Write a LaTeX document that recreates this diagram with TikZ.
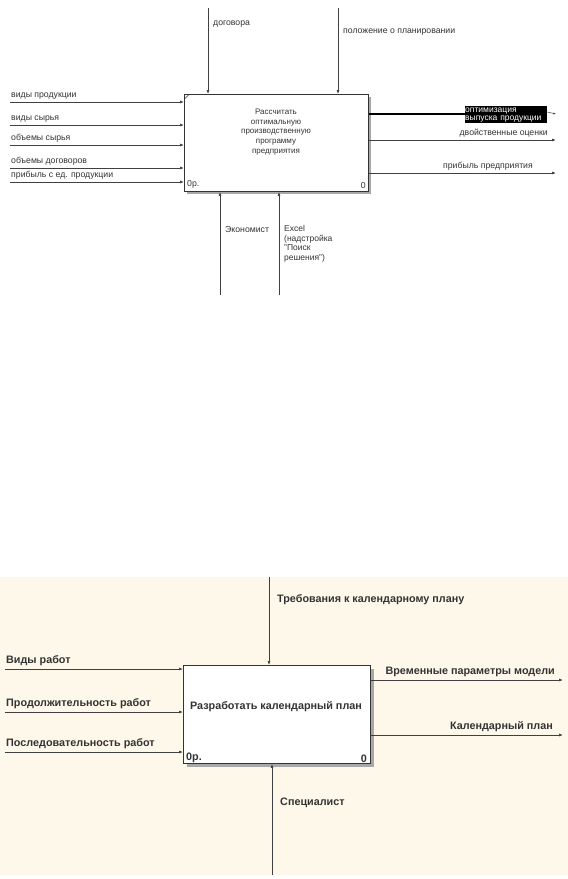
\documentclass[tikz,border=0pt]{standalone}
\usepackage{fontspec}
\setmainfont{Liberation Sans}
\usetikzlibrary{arrows.meta}
\definecolor{cream}{HTML}{FDF8EA}
\definecolor{shadowgray}{HTML}{A8A8A8}
\begin{document}
\begin{tikzpicture}[x=1pt,y=-1pt,
  arr/.style={draw=black!75,line width=0.7pt,-{Latex[length=4pt,width=3pt]}},
  lblA/.style={font=\fontsize{8.7}{10}\selectfont,inner sep=0pt,text=black!80},
  lblB/.style={font=\fontsize{10.8}{12}\selectfont\bfseries,inner sep=0pt,text=black!80},
  actbox/.style={draw=black!80,line width=0.9pt,fill=white,inner sep=0pt}]
\useasboundingbox (0,0) rectangle (568,879);
\fill[white] (0,0) rectangle (568,879);
% ================= TOP DIAGRAM =================
\fill[shadowgray] (187,97) rectangle (371,194);
\node[actbox,fill=white,minimum width=184pt,minimum height=97pt,anchor=north west] (A) at (184,94) {};
\node[lblA,align=center,font=\fontsize{8}{9.6}\selectfont] (Atxt) at (276,132) {Рассчитать\\оптимальную\\производственную\\программу\\предприятия};
\node[lblA,anchor=south west] (A0p) at (187,189) {0р.};
\node[lblA,anchor=south east] (A0) at (366,189) {0};
\draw[black!80,line width=0.5pt] (184.5,99) -- (189,94.5);
% controls
\coordinate (c1) at (208,8);
\coordinate (c2) at (338,8);
\draw[arr] (c1) -- (c1 |- A.north);
\draw[arr] (c2) -- (c2 |- A.north);
\node[lblA,anchor=west] (lc1) at (213,24) {договора};
\node[lblA,anchor=west] (lc2) at (343,32) {положение о планировании};
% inputs
\foreach \y/\t/\n in {102/виды продукции/i1,125/виды сырья/i2,145/объемы сырья/i3,168/объемы договоров/i4,182/прибыль с ед. продукции/i5}{
  \coordinate (\n) at (10,\y);
  \draw[arr] (\n) -- (\n -| A.west);
  \node[lblA,anchor=south west] (l\n) at (11,\y-2.5) {\t};
}
% mechanisms
\coordinate (m1) at (220,295);
\coordinate (m2) at (279,295);
\draw[arr] (m1) -- (m1 |- A.south);
\draw[arr] (m2) -- (m2 |- A.south);
\node[lblA,anchor=west] (lm1) at (225,229) {Экономист};
\node[lblA,anchor=north west,align=left,font=\fontsize{8.5}{9.8}\selectfont] (lm2) at (284,225) {Excel\\(надстройка\\"Поиск\\решения")};
% outputs
\node[fill=black,text=white,inner sep=0pt,text width=82pt,minimum height=17pt,anchor=north west,align=left,font=\fontsize{8.5}{8.4}\selectfont] (lo1) at (465,106) {\strut оптимизация\\выпуска продукции};
\coordinate (o1s) at (A.east |- 0,114);
\draw[black,line width=2pt] (o1s) -- (lo1.west |- o1s);
\coordinate (o1e) at (556,114);
\draw[black!75,line width=0.5pt,-{Latex[length=2.5pt,width=2pt]}] (lo1.east |- 0,112) -- (o1e);
\coordinate (o2) at (556,140);
\coordinate (o3) at (556,173);
\draw[arr] (o2 -| A.east) -- (o2);
\draw[arr] (o3 -| A.east) -- (o3);
\node[lblA,anchor=south east] (lo2) at (548,137.5) {двойственные оценки};
\node[lblA,anchor=south east] (lo3) at (533,170.5) {прибыль предприятия};
% ================= BOTTOM DIAGRAM =================
\fill[cream] (0,577) rectangle (568,875);
\fill[shadowgray] (187,669) rectangle (374,767);
\node[actbox,fill=white,minimum width=187pt,minimum height=98pt,anchor=north west] (B) at (183,665) {};
\node[lblB] (Btxt) at (276,707) {Разработать календарный план};
\node[lblB,anchor=south west] (B0p) at (186,763) {0р.};
\node[lblB,anchor=south east] (B0) at (367,763) {0};
\coordinate (bc) at (269,577);
\draw[arr] (bc) -- (bc |- B.north);
\node[lblB,anchor=west] (lbc) at (277,600) {Требования к календарному плану};
\foreach \y/\t/\n in {669/Виды работ/j1,712/Продолжительность работ/j2,752/Последовательность работ/j3}{
  \coordinate (\n) at (5,\y);
  \draw[arr] (\n) -- (\n -| B.west);
  \node[lblB,anchor=south west] (l\n) at (6,\y-3) {\t};
}
\coordinate (bm) at (272,875);
\draw[arr] (bm) -- (bm |- B.south);
\node[lblB,anchor=west] (lbm) at (280,803) {Специалист};
\coordinate (p1) at (563,680);
\coordinate (p2) at (563,735);
\draw[arr] (p1 -| B.east) -- (p1);
\draw[arr] (p2 -| B.east) -- (p2);
\node[lblB,anchor=south east] (lp1) at (555,677) {Временные параметры модели};
\node[lblB,anchor=south east] (lp2) at (553,732) {Календарный план};
\end{tikzpicture}
\end{document}
